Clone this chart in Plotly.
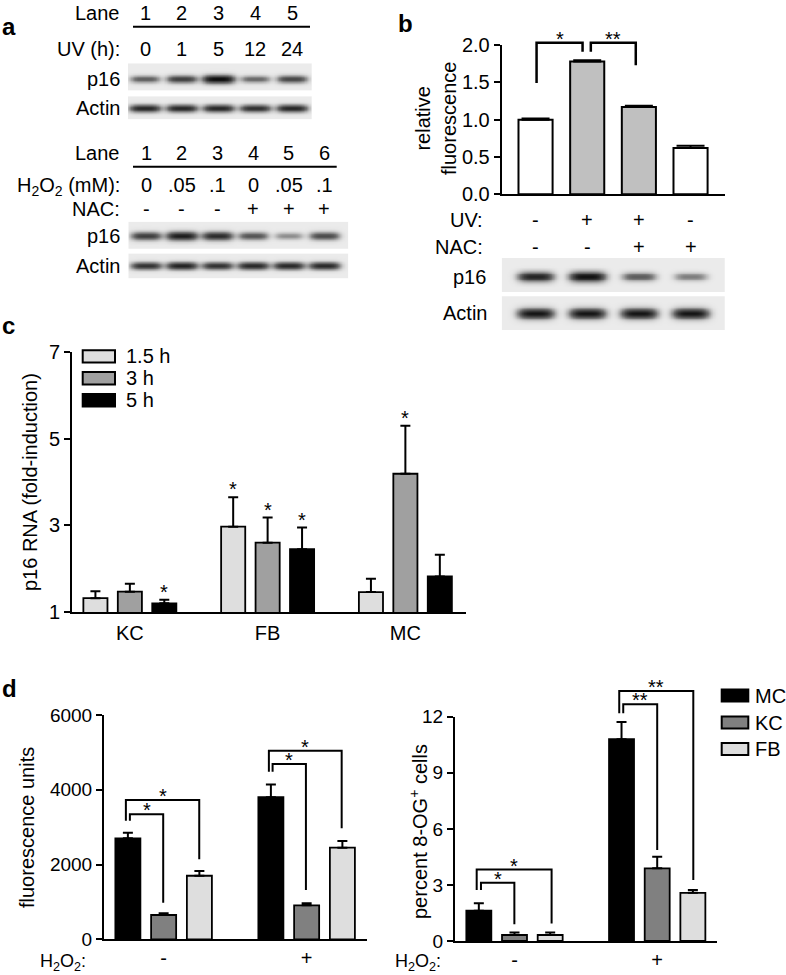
import numpy as np
import plotly.graph_objects as go

W, H = 786, 975
FONT = 'Liberation Sans, Arial, Helvetica, sans-serif'
FS = 20

# ---------------- data ----------------
# panel a, upper blot: UV time course
a1_lane = [1, 2, 3, 4, 5]
a1_uv = ['0', '1', '5', '12', '24']
a1_p16 = [0.55, 0.72, 1.0, 0.5, 0.68]
a1_actin = [0.85, 0.85, 0.85, 0.8, 0.85]

# panel a, lower blot: H2O2 with / without NAC
a2_lane = [1, 2, 3, 4, 5, 6]
a2_h2o2 = ['0', '.05', '.1', '0', '.05', '.1']
a2_nac = ['-', '-', '-', '+', '+', '+']
a2_p16 = [0.72, 0.9, 0.82, 0.6, 0.35, 0.65]
a2_actin = [0.8, 0.88, 0.8, 0.85, 0.85, 0.85]

# panel b
b_lane = [0, 1, 2, 3]
b_uv = ['-', '+', '+', '-']
b_nac = ['-', '-', '+', '+']
b_fluor = [1.0, 1.78, 1.17, 0.62]
b_err = [0.015, 0.015, 0.015, 0.03]
b_fill = ['white', '#c0c0c0', '#c0c0c0', 'white']
b_p16 = [0.85, 0.95, 0.55, 0.4]
b_actin = [0.95, 0.95, 0.95, 0.95]
# left leg x, right leg x, left leg bottom, top, right leg bottom, label
b_brackets = [(0.02, 0.91, 1.49, 2.03, 1.91, '*'),
              (1.07, 1.94, 1.91, 2.03, 1.73, '**')]

# panel c
c_cells = ['KC', 'FB', 'MC']
c_times = ['1.5 h', '3 h', '5 h']
c_colors = ['#dedede', '#a0a0a0', '#000000']
c_fold_15 = [1.32, 2.97, 1.46]
c_err_15 = [0.16, 0.68, 0.31]
c_sig_15 = ['', '*', '']
c_fold_3 = [1.47, 2.60, 4.19]
c_err_3 = [0.18, 0.58, 1.11]
c_sig_3 = ['', '*', '*']
c_fold_5 = [1.20, 2.45, 1.82]
c_err_5 = [0.08, 0.50, 0.50]
c_sig_5 = ['*', '*', '']

# panel d
d_h2o2 = ['-', '+']
d_cells = ['MC', 'KC', 'FB']
d_colors = ['#000000', '#808080', '#dedede']
d_units_mc = [2700, 3800]
d_units_mc_err = [150, 340]
d_units_kc = [650, 910]
d_units_kc_err = [45, 55]
d_units_fb = [1700, 2450]
d_units_fb_err = [130, 180]
d_og_mc = [1.62, 10.8]
d_og_mc_err = [0.40, 0.92]
d_og_kc = [0.32, 3.89]
d_og_kc_err = [0.13, 0.62]
d_og_fb = [0.32, 2.58]
d_og_fb_err = [0.13, 0.15]
d_units_brackets = [(-0.264, 0.249, 3172, 3726, 2140, '*'),
                    (-0.236, -0.003, 3172, 3343, 979, '*'),
                    (0.736, 1.245, 4482, 5044, 2969, '*'),
                    (0.762, 0.995, 4482, 4688, 1319, '*')]
d_og_brackets = [(-0.265, 0.26, 2.73, 3.82, 0.94, '*'),
                 (-0.235, -0.001, 2.73, 3.12, 0.90, '*'),
                 (0.734, 1.253, 12.18, 13.38, 3.26, '**'),
                 (0.762, 1.0, 12.18, 12.66, 4.87, '**')]


# ---------------- helpers ----------------
def xdom(left, right):
    return [left / W, right / W]


def ydom(top, bottom):
    return [1 - bottom / H, 1 - top / H]


AX = {
    'b': dict(xd=(501.7, 725), yd=(45, 194.3), yr=(0, 2)),
    'c': dict(xd=(72, 466), yd=(352, 612), yr=(1, 7)),
    'dl': dict(xd=(104, 366.7), yd=(715, 939.3), yr=(0, 6000)),
    'dr': dict(xd=(455, 716.7), yd=(716.7, 941), yr=(0, 12)),
}


def yp(key, v):
    a = AX[key]
    d = ydom(*a['yd'])
    r = a['yr']
    return d[0] + (v - r[0]) / (r[1] - r[0]) * (d[1] - d[0])


def px(x):
    return x / W


def py(y):
    return 1 - y / H


shapes = []
annotations = []


def txt(x, y, text, xref='paper', yref='paper', xanchor='center', size=FS,
        bold=False, angle=0, yshift=0):
    annotations.append(dict(
        x=x, y=y, xref=xref, yref=yref, text=f'<b>{text}</b>' if bold else text,
        showarrow=False, xanchor=xanchor, yanchor='middle', textangle=angle,
        yshift=yshift, font=dict(family=FONT, size=size, color='black')))


def bracket(xref, key, x0, x1, yl, yt, yr, label, width=2):
    path = (f'M {x0},{yp(key, yl)} L {x0},{yp(key, yt)} '
            f'L {x1},{yp(key, yt)} L {x1},{yp(key, yr)}')
    shapes.append(dict(type='path', xref=xref, yref='paper', path=path,
                       line=dict(color='black', width=width)))
    txt((x0 + x1) / 2, yp(key, yt), label, xref=xref, yshift=4)


def blot(lanes, inten, xr, top, bottom, hw, hh, frac, xa, ya):
    xs = np.linspace(xr[0], xr[1], 320)
    ys = np.linspace(top, bottom, 40)
    yc = top + frac * (bottom - top)
    z = np.zeros((len(ys), len(xs)))
    for lane, v in zip(lanes, inten):
        lat = np.exp(-((xs - lane) / (hw * (0.85 + 0.2 * v))) ** 4)
        ver = np.exp(-((ys - yc) / (hh * (0.7 + 0.45 * v))) ** 2)
        z += v * np.outer(ver, lat)
    return go.Heatmap(
        x=xs, y=ys, z=np.clip(z, 0, 1), zmin=0, zmax=1, zsmooth='best',
        colorscale=[[0, '#ebebeb'], [0.45, '#707070'], [1, '#080808']],
        showscale=False, hoverinfo='skip', xaxis=xa, yaxis=ya)


fig = go.Figure()

# ---------------- panel a ----------------
A1 = dict(xd=(128, 311.7), xr=(0.537, 5.536), yd=(63.3, 119.3))
A2 = dict(xd=(128.3, 348.3), xr=(0.5, 6.67), yd=(221.7, 278.3))
fig.add_trace(blot(a1_lane, a1_p16, A1['xr'], 63.3, 90, 0.42, 3.6, 0.59, 'x3', 'y3'))
fig.add_trace(blot(a1_lane, a1_actin, A1['xr'], 96.7, 119.3, 0.42, 3.4, 0.51, 'x3', 'y3'))
fig.add_trace(blot(a2_lane, a2_p16, A2['xr'], 221.7, 248.3, 0.43, 4.0, 0.53, 'x4', 'y4'))
fig.add_trace(blot(a2_lane, a2_actin, A2['xr'], 254, 278.3, 0.43, 3.4, 0.48, 'x4', 'y4'))

txt(px(9), py(27), 'a', size=24, bold=True)
txt(px(121.7), py(12.7), 'Lane', xanchor='right')
txt(px(121.7), py(49.3), 'UV (h):', xanchor='right')
txt(px(121.7), py(79.3), 'p16', xanchor='right')
txt(px(121.7), py(108), 'Actin', xanchor='right')
for lane, uv in zip(a1_lane, a1_uv):
    txt(lane, py(12.7), str(lane), xref='x3')
    txt(lane, py(49.3), uv, xref='x3')
shapes.append(dict(type='line', xref='paper', yref='paper', x0=px(133), x1=px(310),
                   y0=py(26.7), y1=py(26.7), line=dict(color='black', width=2)))

txt(px(121.7), py(153.3), 'Lane', xanchor='right')
txt(px(121.7), py(186), 'H<sub>2</sub>O<sub>2</sub> (mM):', xanchor='right')
txt(px(121.7), py(209.3), 'NAC:', xanchor='right')
txt(px(121.7), py(235.7), 'p16', xanchor='right')
txt(px(121.7), py(265.7), 'Actin', xanchor='right')
for lane, h, n in zip(a2_lane, a2_h2o2, a2_nac):
    txt(lane, py(153.3), str(lane), xref='x4')
    txt(lane, py(185), h, xref='x4')
    txt(lane, py(209.3), n, xref='x4')
shapes.append(dict(type='line', xref='paper', yref='paper', x0=px(133), x1=px(336.7),
                   y0=py(166.7), y1=py(166.7), line=dict(color='black', width=2)))

# ---------------- panel b ----------------
fig.add_trace(go.Bar(
    x=b_lane, y=b_fluor, width=0.66, marker=dict(color=b_fill, line=dict(color='black', width=2)),
    error_y=dict(type='data', array=b_err, arrayminus=[0] * 4, symmetric=False,
                 color='black', thickness=2, width=14),
    xaxis='x', yaxis='y', showlegend=False))
fig.add_trace(blot(b_lane, b_p16, (-0.655, 3.667), 258, 291.7, 0.34, 4.5, 0.55, 'x2', 'y2'))
fig.add_trace(blot(b_lane, b_actin, (-0.655, 3.667), 296.7, 330, 0.34, 4.6, 0.5, 'x2', 'y2'))
for br in b_brackets:
    bracket('x', 'b', *br, width=2.5)
txt(px(405.6), py(24), 'b', size=24, bold=True)
txt(px(436), py(118), 'relative<br>fluorescence', angle=-90)
txt(px(485), py(220), 'UV:', xanchor='right')
txt(px(485), py(246.7), 'NAC:', xanchor='right')
txt(px(488), py(276.7), 'p16', xanchor='right')
txt(px(489), py(313), 'Actin', xanchor='right')
for lane, u, n in zip(b_lane, b_uv, b_nac):
    txt(lane, py(220), u, xref='x')
    txt(lane, py(246.7), n, xref='x')

# ---------------- panel c ----------------
c_series = [(c_fold_15, c_err_15, c_sig_15), (c_fold_3, c_err_3, c_sig_3), (c_fold_5, c_err_5, c_sig_5)]
for k, (vals, errs, sigs) in enumerate(c_series):
    fig.add_trace(go.Bar(
        x=[0, 1, 2], y=vals, name=c_times[k],
        marker=dict(color=c_colors[k], line=dict(color='black', width=1.8)),
        error_y=dict(type='data', array=errs, arrayminus=[0] * 3, symmetric=False,
                     color='black', thickness=2, width=5),
        xaxis='x5', yaxis='y5', showlegend=False))
    for i, s in enumerate(sigs):
        if s:
            txt(i + (k - 1) * 0.25, yp('c', vals[i] + errs[i]), s, xref='x5', yshift=8)
    # hand drawn legend
    yc = [356.4, 378.3, 400.2][k]
    shapes.append(dict(type='rect', xref='paper', yref='paper', x0=px(82.7), x1=px(115),
                       y0=py(yc - 6.2), y1=py(yc + 6.2), fillcolor=c_colors[k],
                       line=dict(color='black', width=2)))
    txt(px(124), py(yc), c_times[k], xanchor='left')
txt(px(8), py(326), 'c', size=24, bold=True)
txt(px(30), py(482), 'p16 RNA (fold-induction)', angle=-90)

# ---------------- panel d ----------------
d_units = [(d_units_mc, d_units_mc_err), (d_units_kc, d_units_kc_err), (d_units_fb, d_units_fb_err)]
d_og = [(d_og_mc, d_og_mc_err), (d_og_kc, d_og_kc_err), (d_og_fb, d_og_fb_err)]
for k in range(3):
    for (vals, errs), xa, ya in [(d_units[k], 'x6', 'y6'), (d_og[k], 'x7', 'y7')]:
        fig.add_trace(go.Bar(
            x=[0, 1], y=vals, name=d_cells[k],
            marker=dict(color=d_colors[k], line=dict(color='black', width=1.8)),
            error_y=dict(type='data', array=errs, arrayminus=[0] * 2, symmetric=False,
                         color='black', thickness=2, width=5),
            xaxis=xa, yaxis=ya, showlegend=False))
    yc = [695.5, 722.5, 749][k]
    shapes.append(dict(type='rect', xref='paper', yref='paper', x0=px(721.7), x1=px(748.3),
                       y0=py(yc - 6), y1=py(yc + 6), fillcolor=d_colors[k],
                       line=dict(color='black', width=2)))
    txt(px(753), py(yc), d_cells[k], xanchor='left')
for br in d_units_brackets:
    bracket('x6', 'dl', *br)
for br in d_og_brackets:
    bracket('x7', 'dr', *br)
txt(px(9), py(688), 'd', size=24, bold=True)
txt(px(27), py(828), 'fluorescence units', angle=-90)
txt(px(418), py(832), 'percent 8-OG<sup>+</sup> cells', angle=-90)
txt(px(88), py(962), 'H<sub>2</sub>O<sub>2</sub>:', xanchor='right', size=18)
txt(px(443), py(962), 'H<sub>2</sub>O<sub>2</sub>:', xanchor='right', size=18)

# ---------------- axes ----------------
tickfont = dict(family=FONT, size=FS, color='black')


def yaxis_style(key, tickvals, ticktext=None, size=FS):
    a = AX[key]
    return dict(domain=ydom(*a['yd']), range=list(a['yr']), tickvals=tickvals,
                ticktext=ticktext, ticks='outside', ticklen=6, tickwidth=2,
                tickcolor='black', showline=True, linewidth=2, linecolor='black',
                showgrid=False, zeroline=False, tickfont=dict(tickfont, size=size),
                automargin=False, fixedrange=True)


def xaxis_style(key, xr, tickvals=None, ticktext=None, show=True, standoff=2):
    a = AX[key]
    return dict(domain=xdom(*a['xd']), range=list(xr), tickvals=tickvals,
                ticktext=ticktext, ticks='', showline=True, linewidth=2,
                linecolor='black', showgrid=False, zeroline=False,
                showticklabels=show, tickfont=tickfont, ticklabelstandoff=standoff,
                automargin=False, fixedrange=True)


hidden = dict(visible=False, showgrid=False, zeroline=False, automargin=False)

fig.update_layout(
    template='none',
    width=W, height=H, margin=dict(l=0, r=0, t=0, b=0, pad=0, autoexpand=False),
    paper_bgcolor='white', plot_bgcolor='white',
    barmode='group', bargap=0.25, bargroupgap=0.3,
    showlegend=False,
    font=dict(family=FONT, size=FS, color='black'),
    xaxis=dict(xaxis_style('b', (-0.655, 3.667), show=False), anchor='y'),
    yaxis=dict(yaxis_style('b', [0, 0.5, 1, 1.5, 2], ['0.0', '0.5', '1.0', '1.5', '2.0']), anchor='x'),
    xaxis2=dict(hidden, domain=xdom(501.7, 725), range=[-0.655, 3.667], anchor='y2'),
    yaxis2=dict(hidden, domain=ydom(258, 330), range=[330, 258], anchor='x2'),
    xaxis3=dict(hidden, domain=xdom(*A1['xd']), range=list(A1['xr']), anchor='y3'),
    yaxis3=dict(hidden, domain=ydom(*A1['yd']), range=[A1['yd'][1], A1['yd'][0]], anchor='x3'),
    xaxis4=dict(hidden, domain=xdom(*A2['xd']), range=list(A2['xr']), anchor='y4'),
    yaxis4=dict(hidden, domain=ydom(*A2['yd']), range=[A2['yd'][1], A2['yd'][0]], anchor='x4'),
    xaxis5=dict(xaxis_style('c', (-0.42, 2.44), [0, 1, 2], c_cells), anchor='y5'),
    yaxis5=dict(yaxis_style('c', [1, 3, 5, 7]), anchor='x5'),
    xaxis6=dict(xaxis_style('dl', (-0.417, 1.42), [0, 1], d_h2o2, standoff=0), anchor='y6'),
    yaxis6=dict(yaxis_style('dl', [0, 2000, 4000, 6000], size=19), anchor='x6'),
    xaxis7=dict(xaxis_style('dr', (-0.417, 1.417), [0, 1], d_h2o2, standoff=0), anchor='y7'),
    yaxis7=dict(yaxis_style('dr', [0, 3, 6, 9, 12], size=19), anchor='x7'),
    shapes=shapes,
    annotations=annotations,
)

# the page body has a default 8px margin; drop it so the figure sits at 0,0
fig.write_html('out.html', config={'displayModeBar': False},
               post_script="document.body.style.margin='0';")
